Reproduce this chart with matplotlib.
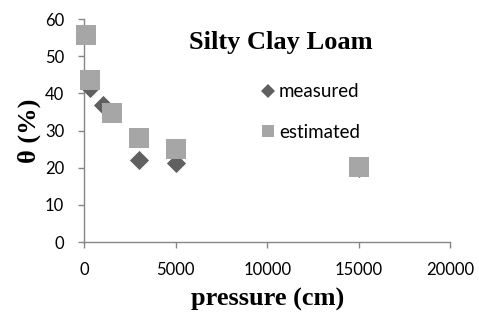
import matplotlib
matplotlib.use("Agg")
import matplotlib.pyplot as plt
from matplotlib.lines import Line2D

# data
measured_x = [100, 330, 1000, 3000, 5000, 15000]
measured_y = [56.0, 41.5, 36.8, 22.0, 21.3, 20.0]
estimated_x = [100, 330, 1500, 3000, 5000, 15000]
estimated_y = [55.7, 43.6, 34.7, 27.9, 25.0, 20.1]

x_ticks = [0, 5000, 10000, 15000, 20000]
y_ticks = [0, 10, 20, 30, 40, 50, 60]

dark = '#606060'
light = '#a6a6a6'
axis_grey = '#868686'
serif = 'Liberation Serif'
sans = 'Lato'

fig = plt.figure(figsize=(4.79, 3.12), dpi=100)
ax = fig.add_axes([0.176, 0.224, 0.764, 0.715])

ax.scatter(measured_x, measured_y, marker='D', s=95, color=dark,
           linewidths=0, zorder=3, clip_on=False)
ax.scatter(estimated_x, estimated_y, marker='s', s=215, color=light,
           linewidths=0, zorder=4, clip_on=False)

ax.set_xlim(0, 20000)
ax.set_ylim(0, 60)
ax.set_xticks(x_ticks)
ax.set_yticks(y_ticks)
ax.set_xticklabels([str(t) for t in x_ticks], family=sans, fontsize=12)
ax.set_yticklabels([str(t) for t in y_ticks], family=sans, fontsize=12)

for side in ['top', 'right']:
    ax.spines[side].set_visible(False)
for side in ['left', 'bottom']:
    ax.spines[side].set_color(axis_grey)
    ax.spines[side].set_linewidth(1.0)
ax.tick_params(axis='both', direction='out', length=4.5, width=1.0,
               color=axis_grey, labelcolor='black')
ax.tick_params(axis='y', pad=10)
ax.tick_params(axis='x', pad=10)

ax.set_xlabel('pressure (cm)', family=serif, fontweight='bold', fontsize=19,
              labelpad=7)
ax.set_ylabel('θ (%)', family=serif, fontweight='bold', fontsize=19,
              labelpad=3)

ax.text(0.537, 0.895, 'Silty Clay Loam', transform=ax.transAxes,
        family=serif, fontweight='bold', fontsize=19,
        ha='center', va='center')

handles = [
    Line2D([], [], marker='D', linestyle='none', color=dark,
           markeredgewidth=0, markersize=7),
    Line2D([], [], marker='s', linestyle='none', color=light,
           markeredgewidth=0, markersize=8),
]
leg = ax.legend(handles, ['measured', 'estimated'], loc='upper left',
                bbox_to_anchor=(0.465, 0.745), frameon=False,
                prop={'family': sans, 'size': 13.5}, handlelength=0.6,
                handletextpad=0.3, labelspacing=1.25, borderaxespad=0)

fig.savefig('out.png', dpi=100)
